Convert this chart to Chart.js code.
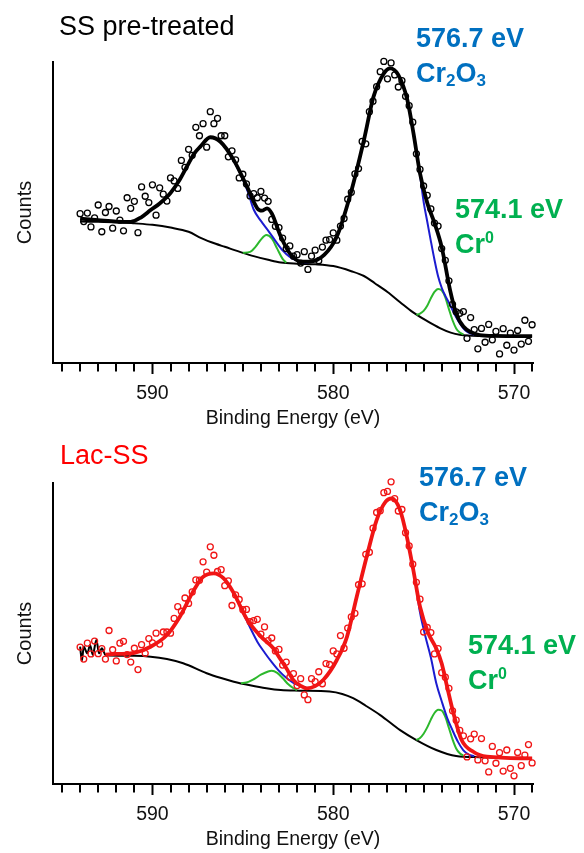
<!DOCTYPE html>
<html><head><meta charset="utf-8">
<script src="https://cdn.jsdelivr.net/npm/chart.js@4.4.1/dist/chart.umd.min.js"></script>
<style>
html,body{margin:0;padding:0;background:#fff;}
body{width:584px;height:853px;position:relative;overflow:hidden;font-family:"Liberation Sans",Arial,sans-serif;}
canvas{position:absolute;left:0;}
.t{position:absolute;white-space:nowrap;line-height:1;font-size:27px;}
.b{font-weight:bold;}
.blue{color:#0070C0;}
.green{color:#00B050;}
.sub{font-size:17px;position:relative;top:4px;}
.sup{font-size:16px;position:relative;top:-10px;}
</style></head>
<body>
<canvas id="c1" width="584" height="432" style="top:0"></canvas>
<canvas id="c2" width="584" height="432" style="top:421px"></canvas>

<div class="t" style="left:59px;top:13px;color:#000;">SS pre-treated</div>
<div class="t b blue" style="left:416px;top:25px;">576.7 eV</div>
<div class="t b blue" style="left:416px;top:60px;">Cr<span class="sub">2</span>O<span class="sub">3</span></div>
<div class="t b green" style="left:455px;top:196px;">574.1 eV</div>
<div class="t b green" style="left:455px;top:231px;">Cr<span class="sup">0</span></div>

<div class="t" style="left:60px;top:442px;color:#ff0000;">Lac-SS</div>
<div class="t b blue" style="left:419px;top:464px;">576.7 eV</div>
<div class="t b blue" style="left:419px;top:499px;">Cr<span class="sub">2</span>O<span class="sub">3</span></div>
<div class="t b green" style="left:468px;top:632px;">574.1 eV</div>
<div class="t b green" style="left:468px;top:667px;">Cr<span class="sup">0</span></div>

<script>
// ---------- measured data (binding energy in eV, counts in arbitrary units) ----------
const energies = [
 594.0,593.8,593.6,593.4,593.2,593.0,592.8,592.6,592.4,592.2,
 592.0,591.8,591.6,591.4,591.2,591.0,590.8,590.6,590.4,590.2,
 590.0,589.8,589.6,589.4,589.2,589.0,588.8,588.6,588.4,588.2,
 588.0,587.8,587.6,587.4,587.2,587.0,586.8,586.6,586.4,586.2,
 586.0,585.8,585.6,585.4,585.2,585.0,584.8,584.6,584.4,584.2,
 584.0,583.8,583.6,583.4,583.2,583.0,582.8,582.6,582.4,582.2,
 582.0,581.8,581.6,581.4,581.2,581.0,580.8,580.6,580.4,580.2,
 580.0,579.8,579.6,579.4,579.2,579.0,578.8,578.6,578.4,578.2,
 578.0,577.8,577.6,577.4,577.2,577.0,576.8,576.6,576.4,576.2,
 576.0,575.8,575.6,575.4,575.2,575.0,574.8,574.6,574.4,574.2,
 574.0,573.8,573.6,573.4,573.2,573.0,572.8,572.6,572.4,572.2,
 572.0,571.8,571.6,571.4,571.2,571.0,570.8,570.6,570.4,570.2,
 570.0,569.8,569.6,569.4,569.2,569.0];

// SS pre-treated: measured counts
const ssCounts = [
 49.6,47.0,49.8,45.2,48.2,52.5,43.6,50.0,52.0,44.8,
 50.5,47.5,43.9,54.9,51.4,53.7,43.3,58.5,55.4,53.3,
 59.2,49.1,58.2,56.1,53.8,61.5,60.5,58.0,67.3,65.0,
 71.0,69.0,78.3,75.5,79.5,71.7,83.5,79.5,81.3,75.5,
 75.5,68.5,70.5,67.5,61.5,62.7,59.5,55.5,56.3,54.9,
 57.0,54.8,53.7,47.7,45.4,45.0,41.5,38.0,38.9,35.5,
 36.0,33.2,37.0,31.1,35.5,37.5,34.0,38.5,40.8,41.0,
 43.2,40.8,45.5,48.0,54.4,56.7,62.8,64.6,73.6,72.8,
 83.5,87.0,91.8,96.8,100.2,94.4,99.7,95.7,91.7,93.8,
 88.6,85.5,80.0,69.5,64.3,58.8,55.7,51.2,46.5,45.5,
 38.0,34.1,27.3,19.5,17.0,16.5,17.1,8.2,15.1,11.1,
 4.7,11.5,6.9,12.8,7.7,10.5,3.0,11.4,5.9,9.9,
 4.3,10.8,6.3,14.2,7.2,12.7];

// SS pre-treated: fitted envelope
const ssEnvelopeE = [594.0,593.0,592.0,591.2,590.6,590.1,589.6,589.0,588.5,588.1,587.7,587.35,586.8,586.24,585.5,584.77,584.2,583.95,583.66,583.4,582.9,582.4,581.8,581.3,580.5,579.8,579.06,578.3,577.77,577.2,576.85,576.4,575.9,575.56,575.2,574.8,574.4,574.0,573.54,573.2,572.8,571.9,571.0,569.0];
const ssEnvelope  = [48.0,47.5,47.0,46.9,48.5,50.8,53.0,56.5,60.8,65.2,69.5,71.9,75.0,73.5,67.4,58.6,51.4,50.6,51.4,49.7,42.0,36.4,33.7,33.7,35.9,42.0,55.8,74.1,88.5,96.2,97.9,95.7,87.4,76.3,63.0,53.2,46.5,38.5,24.3,16.5,12.1,9.3,9.0,8.9];

// SS pre-treated: Shirley background
const ssBackgroundE = [594.0,593.0,592.0,591.0,590.0,589.0,588.0,587.3,586.5,586.0,585.0,584.4,583.6,582.9,582.0,581.0,580.0,579.0,578.3,577.7,577.0,576.3,575.6,574.8,574.1,573.5,573.0,572.0,569.0];
const ssBackground  = [47.0,46.9,46.8,46.4,45.9,45.0,43.6,41.5,39.6,38.6,36.6,35.5,34.3,33.4,33.0,32.8,32.2,30.5,28.9,26.5,23.6,20.2,16.9,13.9,11.6,10.1,9.4,9.0,8.9];

// SS pre-treated: Cr2O3 component (visible parts; null = hidden under envelope)
const ssCr2O3E = [585.8,585.4,585.0,584.7,584.4,584.0,583.6,583.2,582.8,582.4,582.0,581.6,581.2,580.8,578.0,575.8,575.4,575.2,575.0,574.8,574.6,574.4,574.2,574.0,573.8,573.6,573.4,573.2,573.0,572.8,572.6,572.2];
const ssCr2O3  = [70.0,66.0,61.0,56.5,51.0,47.2,44.0,40.6,37.4,35.2,34.0,33.4,33.6,34.8,null,84.5,70.3,62.5,53.5,47.0,40.5,34.3,28.8,25.0,22.3,20.0,17.6,15.2,13.2,11.5,10.4,9.4];

// SS pre-treated: Cr0 component
const ssCr0E = [585.0,584.6,584.3,584.0,583.7,583.4,583.1,582.8,582.6,578.0,575.4,575.2,575.0,574.8,574.6,574.4,574.2,574.0,573.8,573.6,573.4,573.2,573.0,572.8];
const ssCr0  = [36.6,36.9,38.6,41.0,42.5,41.4,38.0,34.6,33.3,null,16.0,16.4,17.3,19.0,21.5,23.6,24.6,24.1,21.8,17.9,14.2,11.5,10.1,9.5];

// Lac-SS: measured counts
const lacCounts = [
 45.5,41.5,46.8,43.2,47.5,43.3,45.0,41.5,51.0,44.6,
 40.9,46.8,47.4,43.0,40.5,45.1,38.0,46.3,43.4,48.3,
 46.9,50.1,46.5,50.5,50.5,50.1,55.0,58.9,57.4,61.8,
 60.0,63.8,67.8,67.7,73.8,70.4,78.8,76.0,70.6,71.2,
 65.9,67.5,59.3,62.8,61.3,57.9,58.0,53.9,54.3,54.7,
 49.8,52.2,47.6,48.5,44.2,44.7,39.5,40.5,35.5,36.7,
 32.7,35.0,29.6,28.0,35.0,34.0,37.3,33.3,40.0,39.7,
 44.2,43.2,49.3,45.1,51.8,55.5,56.7,66.2,66.5,76.3,
 77.0,85.0,90.2,90.8,96.8,97.2,100.4,94.8,90.7,91.2,
 83.5,79.1,73.0,67.0,61.4,50.5,52.0,50.3,43.2,45.0,
 37.0,35.5,31.8,24.3,21.2,17.8,16.0,9.0,15.0,16.6,
 8.0,15.1,7.7,4.0,12.5,6.9,10.4,4.3,11.3,5.2,
 2.7,10.5,6.1,9.6,13.1,7.0];

// Lac-SS: fitted envelope
const lacEnvelopeE = [592.6,592.0,591.0,590.1,589.2,588.5,587.7,587.2,586.6,586.06,585.5,584.8,584.05,583.3,583.0,582.6,582.2,581.8,581.46,581.0,580.54,579.8,579.24,578.7,578.15,577.6,577.1,576.77,576.3,575.93,575.57,575.2,574.74,574.3,574.0,573.7,573.35,572.9,572.25,571.5,569.0];
const lacEnvelope  = [43.0,43.2,43.6,45.6,49.5,55.4,64.5,68.8,70.0,68.3,63.4,55.0,49.3,45.0,42.2,38.5,34.5,32.6,31.8,32.5,34.6,41.2,48.9,62.2,75.5,87.7,93.8,94.9,91.0,82.2,71.1,58.9,50.1,45.0,40.0,32.3,23.5,14.6,10.7,9.1,8.5];

// Lac-SS: background (with raw trace at the start)
const lacBackgroundE = [594.0,593.9,593.8,593.6,593.45,593.3,593.1,592.95,592.8,592.6,592.4,591.0,590.1,589.2,588.3,587.0,586.2,585.5,584.6,583.7,582.9,581.85,580.2,579.5,578.9,578.2,577.4,576.3,575.4,574.3,573.2,571.9,569.0];
const lacBackground  = [45.6,41.0,45.6,43.4,46.2,42.9,47.8,43.4,45.1,42.9,42.7,42.6,42.3,41.5,40.1,36.8,35.2,34.0,32.8,31.8,31.2,31.0,30.7,29.9,28.5,26.0,22.9,17.9,14.6,11.3,9.3,8.9,8.5];

// Lac-SS: Cr2O3 component
const lacCr2O3E = [585.4,585.0,584.6,584.2,583.8,583.4,583.0,582.6,582.2,581.8,581.4,581.0,578.0,575.8,575.4,575.2,574.9,574.6,574.3,574.0,573.7,573.4,573.1,572.8,572.5,572.2];
const lacCr2O3  = [62.2,57.0,52.0,47.3,43.7,40.5,37.6,35.3,33.6,32.5,31.9,32.4,null,78.3,65.0,57.0,49.0,42.0,33.5,27.5,22.0,17.8,14.0,11.2,9.8,9.2];

// Lac-SS: Cr0 component
const lacCr0E = [585.1,584.8,584.4,584.0,583.6,583.4,583.1,582.8,582.5,582.2,582.0,578.0,575.4,575.2,575.0,574.8,574.6,574.4,574.2,574.0,573.8,573.6,573.4,573.2,573.0,572.8];
const lacCr0  = [33.5,33.7,34.8,36.3,37.4,37.6,36.9,35.2,33.2,31.8,31.2,null,14.6,15.3,16.7,18.8,21.4,23.6,24.7,24.4,22.3,18.6,14.8,11.8,10.2,9.4];

// x-axis tick labels
const majorTickLabels = [590, 580, 570];

// ---------- chart building ----------
Chart.defaults.font.family = "'Liberation Sans', Arial, sans-serif";
Chart.defaults.color = '#111';

function pts(xs, ys) { return xs.map((x, i) => ({ x: x, y: ys[i] })); }
function isMajor(v) { return majorTickLabels.indexOf(Math.round(v)) >= 0 && Math.abs(v - Math.round(v)) < 1e-6; }

const minorTicks = {
  id: 'minorTicks',
  afterDraw(chart) {
    const s = chart.scales.x, ctx = chart.ctx;
    ctx.save();
    ctx.strokeStyle = '#000';
    ctx.lineWidth = 2;
    s.ticks.forEach(t => {
      if (!isMajor(t.value)) {
        const x = Math.round(s.getPixelForValue(t.value));
        ctx.beginPath();
        ctx.moveTo(x, s.top);
        ctx.lineTo(x, s.top + 8.5);
        ctx.stroke();
      }
    });
    ctx.restore();
  }
};

function lineSet(label, xs, ys, color, width, order) {
  return { label: label, data: pts(xs, ys), showLine: true, borderColor: color, backgroundColor: color,
           borderWidth: width, pointRadius: 0, pointHoverRadius: 0, cubicInterpolationMode: 'monotone',
           spanGaps: false, order: order, fill: false };
}

function buildChart(id, cfg) {
  return new Chart(document.getElementById(id), {
    type: 'scatter',
    data: {
      datasets: [
        lineSet('Envelope', cfg.envE, cfg.env, cfg.mainColor, 3.8, 0),
        { label: 'Data', data: pts(energies, cfg.counts), pointStyle: 'circle', pointRadius: 3,
          pointBorderWidth: 1.3, pointBackgroundColor: 'rgba(0,0,0,0)', pointBorderColor: cfg.mainColor,
          borderColor: cfg.mainColor, backgroundColor: 'rgba(0,0,0,0)', order: 1, clip: 8 },
        lineSet('Cr2O3', cfg.oxE, cfg.ox, '#1c1cd0', 2, 2),
        lineSet('Cr0', cfg.metE, cfg.met, '#2cb82c', 2, 3),
        lineSet('Background', cfg.bgE, cfg.bg, '#000', 2, 4)
      ]
    },
    options: {
      responsive: false, animation: false, devicePixelRatio: 1, events: [],
      layout: { padding: { left: 13, top: 62, right: 51, bottom: 1.5 } },
      plugins: { legend: { display: false }, tooltip: { enabled: false } },
      scales: {
        x: {
          type: 'linear', position: 'bottom', reverse: true, min: 568.95, max: 595.5,
          afterFit: s => { s.height = 67.5; },
          border: { display: true, color: '#000', width: 2 },
          grid: { display: true, drawOnChartArea: false, drawTicks: true, tickLength: 11, tickWidth: 2,
                  tickColor: c => (c.tick && isMajor(c.tick.value)) ? '#000' : 'rgba(0,0,0,0)' },
          ticks: { stepSize: 1, autoSkip: false, maxRotation: 0, minRotation: 0, includeBounds: false,
                   padding: 8, color: '#111', font: { size: 19.5 },
                   callback: v => isMajor(v) ? String(Math.round(v)) : '' },
          title: { display: true, text: 'Binding Energy (eV)', color: '#111', font: { size: 19.5 },
                   padding: { top: 0, bottom: 0 } }
        },
        y: {
          type: 'linear', position: 'left', min: 0, max: 100,
          afterFit: s => { s.width = 40; },
          border: { display: true, color: '#000', width: 2 },
          grid: { display: false },
          ticks: { display: false },
          title: { display: true, text: 'Counts', color: '#111', font: { size: 20 },
                   padding: { top: 0, bottom: 0 } }
        }
      }
    },
    plugins: [minorTicks]
  });
}

buildChart('c1', { mainColor: '#000', counts: ssCounts, envE: ssEnvelopeE, env: ssEnvelope,
  bgE: ssBackgroundE, bg: ssBackground, oxE: ssCr2O3E, ox: ssCr2O3, metE: ssCr0E, met: ssCr0 });
buildChart('c2', { mainColor: '#f01515', counts: lacCounts, envE: lacEnvelopeE, env: lacEnvelope,
  bgE: lacBackgroundE, bg: lacBackground, oxE: lacCr2O3E, ox: lacCr2O3, metE: lacCr0E, met: lacCr0 });
</script>
</body></html>
